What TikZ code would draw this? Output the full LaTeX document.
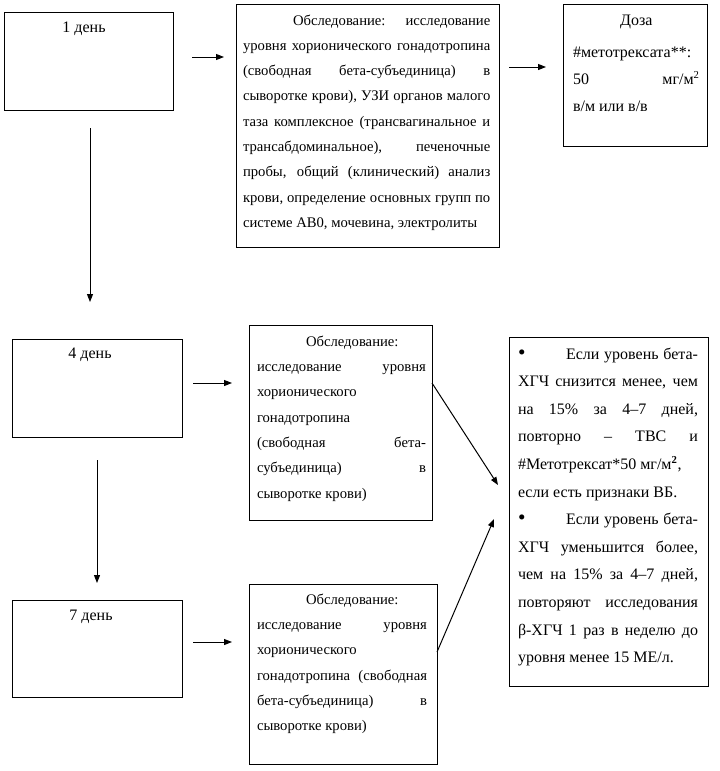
\documentclass[tikz,border=0pt]{standalone}
\usepackage{fontspec}
\setmainfont{Liberation Serif}
\usetikzlibrary{arrows.meta}
\begin{document}
\begin{tikzpicture}[x=0.75pt,y=-0.75pt,
  box/.style={draw, line width=0.75pt, inner sep=0pt, outer sep=0pt, anchor=north west},
  txtS/.style={anchor=north west, inner sep=0pt, outer sep=0pt, text width=#1, align=justify, font=\fontsize{11}{19}\selectfont},
  txtL/.style={anchor=north west, inner sep=0pt, outer sep=0pt, text width=#1, align=justify, font=\fontsize{12}{20.7}\selectfont},
  daytxt/.style={anchor=base, inner sep=0pt, font=\fontsize{12}{14}\selectfont},
  arr/.style={line width=0.75pt, -{Triangle[length=6pt,width=4.5pt]}}
]
\useasboundingbox (0,0) rectangle (719,771);
\fill[white] (0,0) rectangle (719,771);

% boxes
\node[box, minimum width=126.75pt, minimum height=73.5pt] (b1) at (4,12) {};
\node[box, minimum width=197.25pt, minimum height=182.25pt] (b2) at (236,4) {};
\node[box, minimum width=108pt, minimum height=106.5pt] (b3) at (563,4) {};
\node[box, minimum width=127.5pt, minimum height=73.5pt] (b4) at (12,339) {};
\node[box, minimum width=137.25pt, minimum height=146.25pt] (b5) at (249,325) {};
\node[box, minimum width=149.25pt, minimum height=261.75pt] (b6) at (509,337) {};
\node[box, minimum width=127.5pt, minimum height=72.75pt] (b7) at (12,600) {};
\node[box, minimum width=141pt, minimum height=135pt] (b8) at (249,584) {};

% texts
\node[daytxt] (t1) at (84,32) {1 день};
\node[daytxt] (t4) at (90,358) {4 день};
\node[daytxt] (t7) at (91,620) {7 день};

\node[txtS=185.5pt] (t2) at (243,4) {\exhyphenpenalty=10000\hyphenpenalty=10000\noindent\rule{0pt}{15.75pt}\hspace*{37.5pt}Обследование: исследование\linebreak
уровня хорионического гонадотропина\linebreak
(свободная бета-субъединица) в\linebreak
сыворотке крови), УЗИ органов малого\linebreak
таза комплексное (трансвагинальное и\linebreak
трансабдоминальное), печеночные\linebreak
пробы, общий (клинический) анализ\linebreak
крови, определение основных групп по\linebreak
системе АВ0, мочевина, электролиты};

\node[txtL=95pt, font=\fontsize{12}{20}\selectfont] (t3) at (573,4) {\noindent\makebox[\linewidth]{\rule{0pt}{16.5pt}Доза}\par\vspace{4pt}
\noindent\#метотрексата**:\newline
50 \hfill мг/м\textsuperscript{2}\newline
в/м или в/в};

\node[txtS=126.75pt] (t5) at (257,325) {\exhyphenpenalty=10000\hyphenpenalty=10000\noindent\rule{0pt}{15.75pt}\hspace*{36.75pt}Обследование:\newline
исследование уровня\linebreak
хорионического\newline
гонадотропина\newline
(свободная бета-\linebreak
субъединица) в\linebreak
сыворотке крови)};

\node[txtL=135pt] (t6) at (518,337) {\exhyphenpenalty=10000\hyphenpenalty=10000\noindent\rule{0pt}{16.5pt}\makebox[36pt][l]{\fontsize{16}{16}\selectfont •}Если уровень бета-\linebreak
ХГЧ снизится менее, чем\linebreak
на 15\% за 4–7 дней,\linebreak
повторно – ТВС и\linebreak
\#Метотрексат*50 мг/м\textsuperscript{\textbf{2}},\newline
если есть признаки ВБ.\par
\noindent\makebox[36pt][l]{\fontsize{16}{16}\selectfont •}Если уровень бета-\linebreak
ХГЧ уменьшится более,\linebreak
чем на 15\% за 4–7 дней,\linebreak
повторяют исследования\linebreak
β-ХГЧ 1 раз в неделю до\linebreak
уровня менее 15 МЕ/л.};

\node[txtS=127.5pt] (t8) at (257,584) {\exhyphenpenalty=10000\hyphenpenalty=10000\noindent\rule{0pt}{15pt}\hspace*{36.75pt}Обследование:\newline
исследование уровня\linebreak
хорионического\newline
гонадотропина (свободная\linebreak
бета-субъединица) в\linebreak
сыворотке крови)};

% arrow end points
\coordinate (a1s) at (192,57);  \coordinate (a1e) at (224,57);
\coordinate (a2s) at (509,67);  \coordinate (a2e) at (546,67);
\coordinate (a3s) at (90,128);  \coordinate (a3e) at (90,302);
\coordinate (a4s) at (193,383); \coordinate (a4e) at (232,383);
\coordinate (a5s) at (432,383); \coordinate (a5e) at (498,485);
\coordinate (a6s) at (97,460);  \coordinate (a6e) at (97,583);
\coordinate (a7s) at (193,642); \coordinate (a7e) at (232,642);
\coordinate (a8s) at (437,652); \coordinate (a8e) at (494,519);

\draw[arr] (a1s) -- (a1e);
\draw[arr] (a2s) -- (a2e);
\draw[arr] (a3s) -- (a3e);
\draw[arr] (a4s) -- (a4e);
\draw[arr] (a5s) -- (a5e);
\draw[arr] (a6s) -- (a6e);
\draw[arr] (a7s) -- (a7e);
\draw[arr] (a8s) -- (a8e);
\end{tikzpicture}
\end{document}
